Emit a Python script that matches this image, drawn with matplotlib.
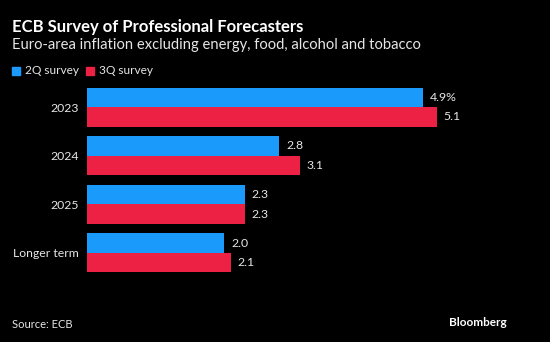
import matplotlib
matplotlib.use("Agg")
import matplotlib.pyplot as plt
from matplotlib.patches import Rectangle

categories = ["2023", "2024", "2025", "Longer term"]
q2_values = [4.9, 2.8, 2.3, 2.0]
q3_values = [5.1, 3.1, 2.3, 2.1]
q2_labels = ["4.9%", "2.8", "2.3", "2.0"]
q3_labels = ["5.1", "3.1", "2.3", "2.1"]
series_names = ["2Q survey", "3Q survey"]

BLUE = "#1a9bfc"
RED = "#ec2143"
BG = "black"
TXT = "#e6e6e6"
FONT = "Lato"

W, H = 550, 342
fig = plt.figure(figsize=(W / 100, H / 100), dpi=100, facecolor=BG)
plt.rcParams["font.family"] = [FONT, "DejaVu Sans"]

scale = 68.6  # px per unit
left_px = 87
xmax = 6.0
ax_left = left_px / W
ax_width = xmax * scale / W
top_px, bot_px = 82.75, 277.25
ax = fig.add_axes([ax_left, 1 - bot_px / H, ax_width, (bot_px - top_px) / H])
ax.set_facecolor(BG)

h = 0.4
ys = list(range(len(categories)))
ax.barh([y - h / 2 for y in ys], q2_values, height=h, color=BLUE, edgecolor="none")
ax.barh([y + h / 2 for y in ys], q3_values, height=h, color=RED, edgecolor="none")
for y, v, l in zip(ys, q2_values, q2_labels):
    ax.text(v + 0.1, y - h / 2, l, va="center", ha="left", color=TXT, fontsize=8.8)
for y, v, l in zip(ys, q3_values, q3_labels):
    ax.text(v + 0.1, y + h / 2, l, va="center", ha="left", color=TXT, fontsize=8.8)

ax.set_xlim(0, xmax)
ax.set_ylim(len(categories) - 0.5, -0.5)
ax.set_yticks(ys)
ax.set_yticklabels(categories, color=TXT, fontsize=8.8)
ax.tick_params(axis="y", length=0, pad=6)
ax.set_xticks([])
for s in ax.spines.values():
    s.set_visible(False)

fig.text(12 / W, 1 - 27 / H, "ECB Survey of Professional Forecasters", color="white",
         fontsize=12, fontweight="bold", va="center", ha="left")
fig.text(12 / W, 1 - 45 / H, "Euro-area inflation excluding energy, food, alcohol and tobacco",
         color=TXT, fontsize=10.6, va="center", ha="left")

# legend
leg_y = 71
for x0, c, name in [(12, BLUE, series_names[0]), (86, RED, series_names[1])]:
    fig.patches.append(Rectangle((x0 / W, 1 - (leg_y + 4) / H), 8 / W, 8 / H,
                                 transform=fig.transFigure, color=c))
    fig.text((x0 + 13) / W, 1 - leg_y / H, name, color=TXT, fontsize=8.6,
             va="center", ha="left")

fig.text(12 / W, 1 - 325 / H, "Source: ECB", color=TXT, fontsize=8, va="center", ha="left")
fig.text(507 / W, 1 - 323 / H, "Bloomberg", color="white", fontsize=8.5,
         fontweight="bold", va="center", ha="right")

fig.savefig("out.png", dpi=100, facecolor=BG)
